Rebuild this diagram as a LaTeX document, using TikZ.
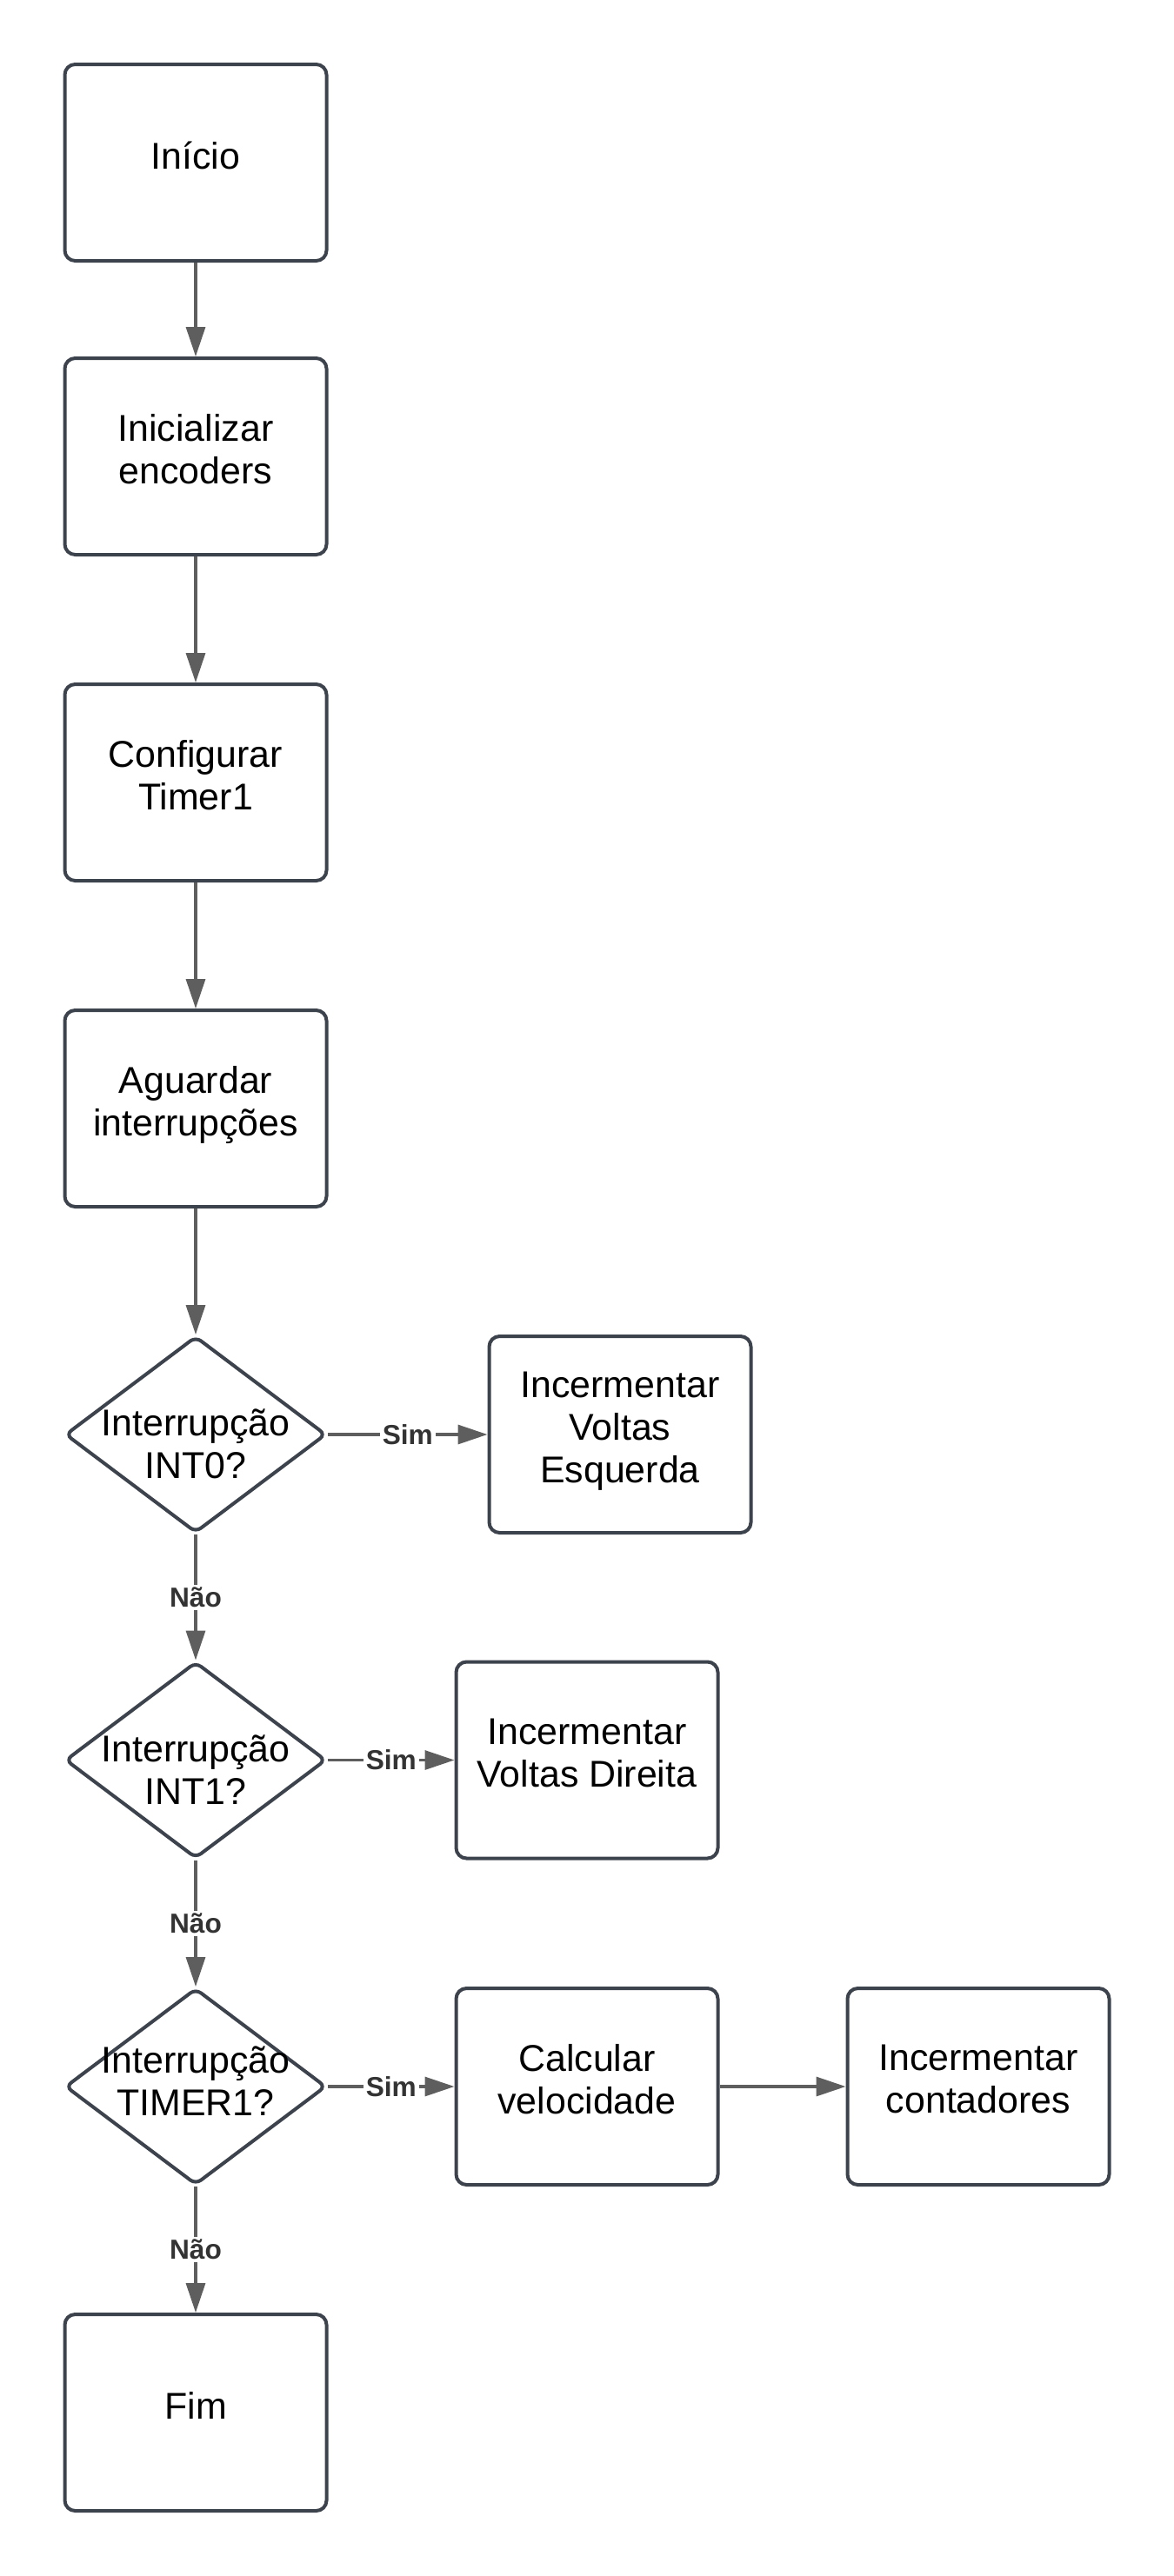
\documentclass[tikz,border=0pt]{standalone}
\usepackage{fontspec}
\setmainfont{Liberation Sans}
\usetikzlibrary{shapes.geometric, arrows.meta}

\definecolor{borda}{HTML}{3D434D}
\definecolor{seta}{HTML}{5E5E5E}
\definecolor{rotulo}{HTML}{333333}

\begin{document}
\begin{tikzpicture}[
  caixa/.style={draw=borda, line width=0.08cm, rounded corners=0.24cm, minimum width=6.02cm, minimum height=4.52cm, align=center, font=\fontsize{24.4}{27.9}\selectfont,
    execute at end node={\rule[-0.34cm]{0pt}{0pt}}},
  decisao/.style={diamond, draw=borda, line width=0.08cm, rounded corners=0.15cm, aspect=1.33, inner sep=-0.3cm, minimum width=6.0cm, minimum height=4.52cm, align=center, font=\fontsize{24.4}{27.9}\selectfont},
  decbaixo/.style={decisao, execute at begin node={\rule{0pt}{2.04cm}}},
  deccima/.style={decisao, execute at end node={\rule[-0.24cm]{0pt}{0pt}}},
  fluxo/.style={draw=seta, line width=0.065cm, -{Triangle[length=0.68cm, width=0.44cm]}},
  rot/.style={fill=white, text=rotulo, font=\bfseries\fontsize{18}{21}\selectfont, inner sep=0.06cm}
]

\useasboundingbox (0, 0) rectangle (27, -59.26);

% coluna principal
\node[caixa] (inicio) at (4.5, -3.74) {Início};
\node[caixa] (encoders) at (4.5, -10.5) {Inicializar\\encoders};
\node[caixa] (timer) at (4.5, -18) {Configurar\\Timer1};
\node[caixa] (aguardar) at (4.5, -25.5) {Aguardar\\interrupções};

\node[decbaixo] (int0) at (4.5, -33) {Interrupção\\INT0?};
\node[decbaixo] (int1) at (4.5, -40.49) {Interrupção\\INT1?};
\node[deccima] (tmr) at (4.5, -48) {Interrupção\\TIMER1?};
\node[caixa] (fim) at (4.5, -55.5) {Fim};

% ramos Sim
\node[caixa] (esq) at (14.26, -33) {Incermentar\\Voltas\\Esquerda};
\node[caixa] (dir) at (13.5, -40.49) {Incermentar\\Voltas Direita};
\node[caixa] (vel) at (13.5, -48) {Calcular\\velocidade};
\node[caixa] (cont) at (22.5, -48) {Incermentar\\contadores};

\draw[fluxo] (inicio) -- (encoders);
\draw[fluxo] (encoders) -- (timer);
\draw[fluxo] (timer) -- (aguardar);
\draw[fluxo] (aguardar) -- (int0);

\draw[fluxo] (int0) -- node[rot] {Sim} (esq);
\draw[fluxo] (int0) -- node[rot] {Não} (int1);
\draw[fluxo] (int1) -- node[rot] {Sim} (dir);
\draw[fluxo] (int1) -- node[rot] {Não} (tmr);
\draw[fluxo] (tmr) -- node[rot] {Sim} (vel);
\draw[fluxo] (tmr) -- node[rot] {Não} (fim);
\draw[fluxo] (vel) -- (cont);

\end{tikzpicture}
\end{document}
